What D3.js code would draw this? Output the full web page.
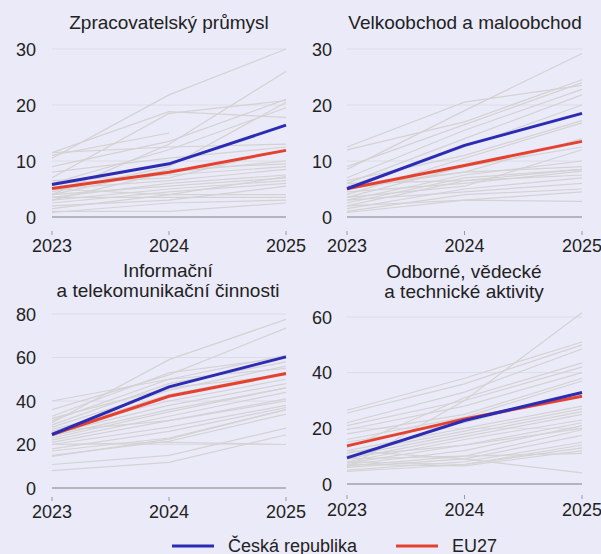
<!DOCTYPE html>
<html><head><meta charset="utf-8">
<script src="https://cdn.jsdelivr.net/npm/d3@7"></script>
<style>
html,body{margin:0;padding:0;background:#EBEAF9;}
svg{display:block;}
text{font-family:"Liberation Sans",Arial,sans-serif;fill:#222;}
</style></head><body>
<svg id="c" width="601" height="554"></svg>
<script>
const years = [2023, 2024, 2025];
const legendLabels = ["Česká republika", "EU27"];

// Panel 1: Zpracovatelský průmysl
const p1Title = ["Zpracovatelský průmysl"];
const p1Ticks = [0, 10, 20, 30];
const p1CZ = [5.8, 9.5, 16.4];
const p1EU = [5.1, 8.0, 11.9];
const p1Others = [
  [10.5, 21.8, 30], [11.5, 18.8, 17.8], [7, 18.5, 20.8], [11, 15, null],
  [4, 13, 26], [9, 13.5, 21], [6, 12, 19.5], [11.5, 12.5, 13],
  [8, 10.5, 12.5], [4.5, 9, 20.5], [3, 8, 10], [6.5, 7.5, 9],
  [5, 6.5, 8.5], [3.5, 6, 7.5], [4, 5.5, 7], [3, 5, 6.5],
  [2.5, 4.5, 6], [1.5, 4, 7.2], [5, 4, 4], [3.5, 3.5, 3.5],
  [1, 1, 2.5], [0.8, 2.5, 3], [6, 7, 12], [2, 3, 5.5], [4, 8.5, 9.5]
];

// Panel 2: Velkoobchod a maloobchod
const p2Title = ["Velkoobchod a maloobchod"];
const p2Ticks = [0, 10, 20, 30];
const p2CZ = [5.05, 12.8, 18.5];
const p2EU = [5.05, 9.2, 13.5];
const p2Others = [
  [12.5, 20.5, 23.5], [8.5, 19, 29.2], [12, 17, 24.5], [9, 16.5, 24],
  [7, 15.5, 22.8], [6, 14, 21.8], [5.5, 12.5, 20], [6.5, 11, 17.2],
  [4, 10.5, 16.8], [5, 8, 14], [3.5, 9, 12.5], [3, 7.5, 10],
  [5.5, 8, 9], [2.5, 7, 8.5], [4.5, 6, 8.2], [2, 6.5, 7.5],
  [1.5, 5, 7], [3, 4.5, 6], [1, 4, 5], [0.8, 3, 4.5],
  [2, 3, 2.8], [6, 6.5, 8.5], [3.5, 5.5, 12]
];

// Panel 3: Informační a telekomunikační činnosti
const p3Title = ["Informační", "a telekomunikační činnosti"];
const p3Ticks = [0, 20, 40, 60, 80];
const p3CZ = [24.6, 46.5, 60.3];
const p3EU = [24.6, 42.2, 52.6];
const p3Others = [
  [30, 59, 77.5], [36, 52, 73.5], [40, 50, 61], [33, 53, 60],
  [29, 48, 58], [28, 45, 56], [31, 50, 55], [26, 43, 53],
  [27, 40, 50], [25, 38, 48], [23, 35, 46], [22, 33, 44],
  [21, 31, 41], [20, 28, 38], [18, 26, 37], [17, 23, 36],
  [15, 21.5, 34], [14.5, 22.5, 36], [10.8, 15, 27.5], [8, 11.8, 24.5],
  [20, 21, 20], [32, 46, 52], [24, 36, 46], [26, 31, 40]
];

// Panel 4: Odborné, vědecké a technické aktivity
const p4Title = ["Odborné, vědecké", "a technické aktivity"];
const p4Ticks = [0, 20, 40, 60];
const p4CZ = [9.4, 22.8, 32.9];
const p4EU = [13.7, 23.4, 31.5];
const p4Others = [
  [6, 30, 61.5], [26.5, 38, 51], [25.5, 36, 50], [22, 33, 48.5],
  [13, 31, 43.5], [21, 30, 42], [19.5, 28, 40], [18, 25, 38],
  [16, 24, 37], [15, 22, 33], [12, 20, 28], [11, 19, 27],
  [10, 18, 26], [9, 17, 25], [8, 16, 23], [7.5, 14, 22],
  [7, 12, 21], [6.5, 10, 19.5], [6, 9, 17.5], [5, 8, 15],
  [4.5, 7, 14], [8, 7, 13], [7, 6.5, 12], [9, 10, 11],
  [12, 9, 4], [10, 14, 20]
];

const panels = [
  {title: p1Title, ticks: p1Ticks, cz: p1CZ, eu: p1EU, others: p1Others,
   x0: 52, x1: 286, yTop: 49, yBot: 217, tickX: 36, titleX: 169, titleY: 29, labY: 252},
  {title: p2Title, ticks: p2Ticks, cz: p2CZ, eu: p2EU, others: p2Others,
   x0: 347, x1: 582, yTop: 49, yBot: 217, tickX: 332, titleX: 465, titleY: 29, labY: 252},
  {title: p3Title, ticks: p3Ticks, cz: p3CZ, eu: p3EU, others: p3Others,
   x0: 52, x1: 286, yTop: 314, yBot: 488, tickX: 36, titleX: 168, titleY: 277, labY: 518},
  {title: p4Title, ticks: p4Ticks, cz: p4CZ, eu: p4EU, others: p4Others,
   x0: 347, x1: 582, yTop: 317, yBot: 484, tickX: 332, titleX: 464, titleY: 278, labY: 516}
];

const BLUE = "#2B2BB3", RED = "#E5412F", GRAY = "#D3D3D3";
const svg = d3.select("#c");

panels.forEach(p => {
  const x = d3.scaleLinear().domain([years[0], years[years.length-1]]).range([p.x0, p.x1]);
  const y = d3.scaleLinear().domain([0, d3.max(p.ticks)]).range([p.yBot, p.yTop]);
  const g = svg.append("g");

  // title
  const t = g.append("text").attr("x", p.titleX).attr("y", p.titleY)
    .attr("text-anchor", "middle").style("font-size", "19px");
  p.title.forEach((line, i) => {
    t.append("tspan").attr("x", p.titleX).attr("dy", i === 0 ? 0 : 20).text(line);
  });

  // gridlines
  g.selectAll(".grid").data(p.ticks.filter(d => d > 0)).enter().append("line")
    .attr("x1", p.x0).attr("x2", p.x1)
    .attr("y1", d => y(d)).attr("y2", d => y(d))
    .attr("stroke", "#DCDCE6").attr("stroke-width", 1);

  // y tick labels
  g.selectAll(".yl").data(p.ticks).enter().append("text")
    .attr("x", p.tickX).attr("y", d => y(d)).attr("dy", "0.37em")
    .attr("text-anchor", "end").style("font-size", "18px")
    .text(d => d);

  // x axis labels and small ticks
  g.selectAll(".xl").data(years).enter().append("text")
    .attr("x", d => x(d)).attr("y", p.labY)
    .attr("text-anchor", "middle").style("font-size", "18px")
    .text(d => d);
  g.selectAll(".xt").data(years).enter().append("line")
    .attr("x1", d => x(d)).attr("x2", d => x(d))
    .attr("y1", p.labY - 21).attr("y2", p.labY - 17)
    .attr("stroke", "#999").attr("stroke-width", 1);

  const line = d3.line().defined(d => d[1] != null)
    .x(d => x(d[0])).y(d => y(d[1]));
  const toPts = arr => years.map((yr, i) => [yr, arr[i]]);

  g.selectAll(".oth").data(p.others).enter().append("path")
    .attr("d", d => line(toPts(d))).attr("fill", "none")
    .attr("stroke", GRAY).attr("stroke-width", 1.2);

  // zero line
  g.append("line").attr("x1", p.x0).attr("x2", p.x1)
    .attr("y1", y(0)).attr("y2", y(0)).attr("stroke", "#7F7F86").attr("stroke-width", 1.2);

  g.append("path").attr("d", line(toPts(p.eu))).attr("fill", "none")
    .attr("stroke", RED).attr("stroke-width", 3);
  g.append("path").attr("d", line(toPts(p.cz))).attr("fill", "none")
    .attr("stroke", BLUE).attr("stroke-width", 3);
});

// legend
const leg = svg.append("g");
const legItems = [
  {label: legendLabels[0], color: BLUE, x: 172},
  {label: legendLabels[1], color: RED, x: 396}
];
legItems.forEach(it => {
  leg.append("line").attr("x1", it.x).attr("x2", it.x + 42)
    .attr("y1", 546).attr("y2", 546).attr("stroke", it.color).attr("stroke-width", 3);
  leg.append("text").attr("x", it.x + 56).attr("y", 552)
    .style("font-size", "18px").text(it.label);
});
</script>
</body></html>
